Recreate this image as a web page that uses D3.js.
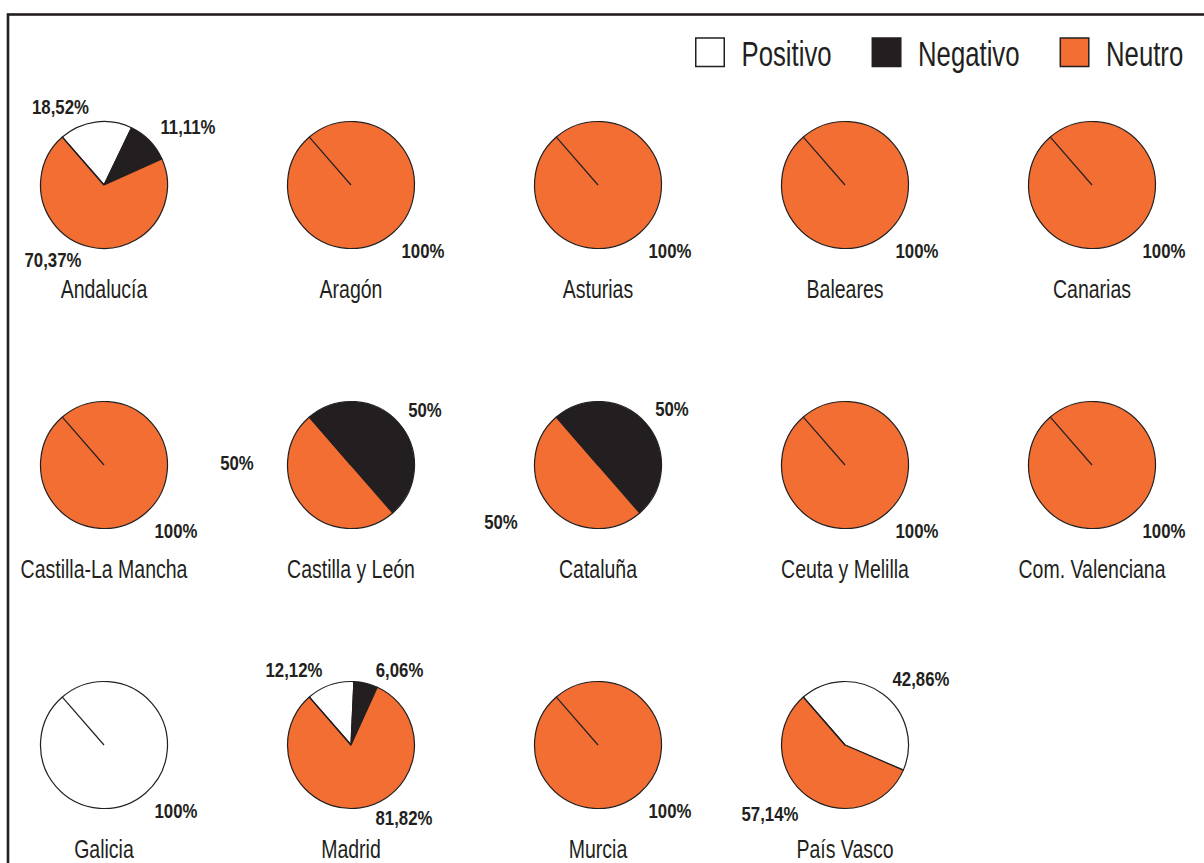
<!DOCTYPE html>
<html>
<head>
<meta charset="utf-8">
<script src="https://cdn.jsdelivr.net/npm/d3@7"></script>
<style>
  body { margin: 0; background: #fff; }
  svg { display: block; }
  text { font-family: 'Liberation Sans', Arial, sans-serif; fill: #231f20; }
</style>
</head>
<body>
<svg id="chart" width="1204" height="863"></svg>
<script>
var regions = ['Andalucía', 'Aragón', 'Asturias', 'Baleares', 'Canarias',
  'Castilla-La Mancha', 'Castilla y León', 'Cataluña', 'Ceuta y Melilla', 'Com. Valenciana',
  'Galicia', 'Madrid', 'Murcia', 'País Vasco'];
var series = ['Positivo', 'Negativo', 'Neutro'];
var positivo = [18.52, 0, 0, 0, 0, 0, 0, 0, 0, 0, 100, 12.12, 0, 42.86];
var negativo = [11.11, 0, 0, 0, 0, 0, 50, 50, 0, 0, 0, 6.06, 0, 0];
var neutro = [70.37, 100, 100, 100, 100, 100, 50, 50, 100, 100, 0, 81.82, 100, 57.14];

var colors = ['#ffffff', '#231f20', '#f26e33'];
var ink = '#231f20';

// value labels were placed by hand in the original, so keep their offsets
// (from the pie centre to the text baseline) per region / series
var labelOffsets = [
  [[-43.5, -71], [84, -51], [-51, 81.5]],
  [null, null, [72, 72.5]],
  [null, null, [72, 72.5]],
  [null, null, [72, 72.5]],
  [null, null, [72, 72.5]],
  [null, null, [72, 72.5]],
  [null, [74, -48], [-114, 5]],
  [null, [74, -49], [-97, 64]],
  [null, null, [72, 72.5]],
  [null, null, [72, 72.5]],
  [[72, 72.5], null, null],
  [[-57, -68.5], [48.5, -68.5], [53, 79.5]],
  [null, null, [72, 72.5]],
  [[76, -59.5], null, [-75, 75.5]]
];

var svg = d3.select('#chart');
var nCols = 5;
var radius = 63.5;
var startDeg = -41;
var start = startDeg * Math.PI / 180;

var xCol = d3.scaleLinear().domain([0, nCols - 1]).range([104, 1092]);
var yRow = d3.scaleLinear().domain([0, 2]).range([185, 745]);

var locale = d3.formatLocale({decimal: ',', thousands: '.', grouping: [3], currency: ['', '€']});
var fmt2 = locale.format('.2f');
function pct(v) {
  return (v % 1 === 0 ? String(v) : fmt2(v)) + '%';
}

// outer frame (runs off the right and bottom of the picture)
svg.append('rect')
  .attr('x', 8).attr('y', 14.5)
  .attr('width', 1400).attr('height', 1000)
  .attr('fill', 'none').attr('stroke', ink).attr('stroke-width', 2.6);

var pie = d3.pie()
  .sort(null)
  .value(function (d) { return d.value; })
  .startAngle(start)
  .endAngle(start + 2 * Math.PI);

var arc = d3.arc().innerRadius(0).outerRadius(radius);

function condensed(sel, size, sx, weight) {
  sel.attr('font-size', size)
    .attr('font-weight', weight || 'normal')
    .attr('text-anchor', 'middle')
    .attr('transform', 'scale(' + sx + ',1)');
}

regions.forEach(function (name, i) {
  var cx = xCol(i % nCols);
  var cy = yRow(Math.floor(i / nCols));
  var vals = [positivo[i], negativo[i], neutro[i]];
  var slices = vals.map(function (v, k) { return {key: series[k], k: k, value: v}; })
    .filter(function (d) { return d.value > 0; });

  var g = svg.append('g').attr('transform', 'translate(' + cx + ',' + cy + ')');

  g.selectAll('path.slice')
    .data(pie(slices))
    .enter().append('path')
    .attr('class', 'slice')
    .attr('d', arc)
    .attr('fill', function (d) { return colors[d.data.k]; })
    .attr('stroke', ink)
    .attr('stroke-width', 1.2)
    .attr('stroke-linejoin', 'round');

  // edge of the first slice (visible also when one slice fills the pie)
  g.append('line')
    .attr('x1', 0).attr('y1', 0)
    .attr('x2', radius * Math.sin(start))
    .attr('y2', -radius * Math.cos(start))
    .attr('stroke', ink)
    .attr('stroke-width', 1.2);

  slices.forEach(function (d) {
    var off = labelOffsets[i][d.k];
    if (!off) return;
    g.append('g')
      .attr('transform', 'translate(' + off[0] + ',' + off[1] + ')')
      .append('text')
      .call(condensed, 20, 0.84, 'bold')
      .text(pct(d.value));
  });

  g.append('g')
    .attr('transform', 'translate(0,' + 113 + ')')
    .append('text')
    .call(condensed, 26, 0.75)
    .text(name);
});

// legend
var legend = svg.append('g').attr('transform', 'translate(695,0)');
var lx = 0;
series.forEach(function (s, k) {
  legend.append('rect')
    .attr('x', lx + 0.75).attr('y', 38)
    .attr('width', 28.5).attr('height', 28.5)
    .attr('fill', colors[k])
    .attr('stroke', ink)
    .attr('stroke-width', 1.5);
  var t = legend.append('text')
    .attr('x', (lx + 46.5) / 0.735)
    .attr('y', 66.5)
    .attr('font-size', 35)
    .attr('transform', 'scale(0.735,1)')
    .text(s);
  lx += 46.5 + t.node().getComputedTextLength() * 0.735 + 40;
});
</script>
</body>
</html>
